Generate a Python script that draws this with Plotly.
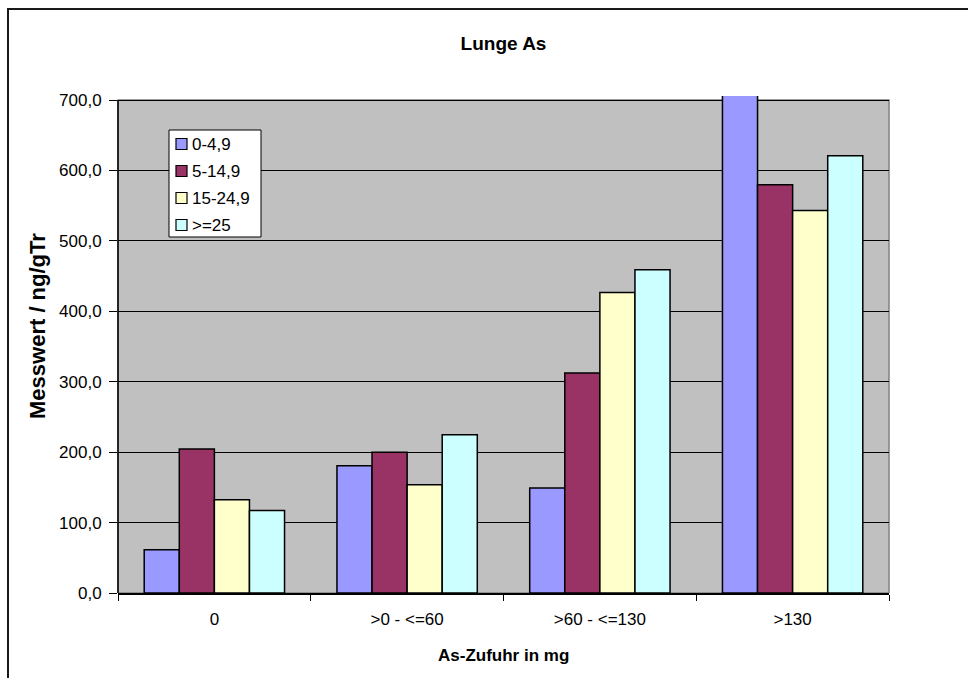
import plotly.graph_objects as go

# Arsenic in lung tissue by cumulative As intake, split by age class
categories = ["0", ">0 - <=60", ">60 - <=130", ">130"]
series_names = ["0-4,9", "5-14,9", "15-24,9", ">=25"]
vals_0_4 = [61.5, 180.8, 149.0, 760.0]
vals_5_14 = [204.5, 199.7, 312.4, 579.7]
vals_15_24 = [132.5, 153.8, 426.8, 543.0]
vals_25 = [117.3, 224.8, 459.0, 620.9]
colors = ["#9999FF", "#993366", "#FFFFCC", "#CCFFFF"]

y_ticks = [0, 100, 200, 300, 400, 500, 600, 700]
y_tick_text = ["0,0", "100,0", "200,0", "300,0", "400,0", "500,0", "600,0", "700,0"]

W, H = 968, 678
ML, MR, MT, MB = 118, 79, 96, 85
plot_w = W - ML - MR
plot_h = H - MT - MB
y_top = 700 * plot_h / (plot_h - 4)  # small headroom so an over-range bar pokes out

font = "Liberation Sans, Arial, sans-serif"
tick_size = 17


def px_x(px):
    return (px - ML) / plot_w


def px_y(py):
    return (H - MB - py) / plot_h


fig = go.Figure()
all_vals = [vals_0_4, vals_5_14, vals_15_24, vals_25]
for i, (name, vals) in enumerate(zip(series_names, all_vals)):
    fig.add_trace(go.Bar(
        x=categories, y=vals, name=name, showlegend=False,
        marker=dict(color=colors[i], line=dict(color="#000000", width=1.5)),
    ))

# grey plotting area up to the 700 mark
fig.add_shape(type="rect", xref="paper", yref="y", x0=0, x1=1, y0=0, y1=700,
              fillcolor="#C0C0C0", line=dict(color="#808080", width=1.5), layer="below")
# y axis line
fig.add_shape(type="line", xref="paper", yref="y", x0=0, x1=0, y0=0, y1=700,
              line=dict(color="#000000", width=1.5), layer="above")
# outer chart frame
fig.add_shape(type="rect", xref="paper", yref="paper",
              x0=px_x(8), x1=px_x(990), y0=px_y(700), y1=px_y(9),
              line=dict(color="#1a1a1a", width=2), fillcolor="rgba(0,0,0,0)")

# legend box with compact swatches
fig.add_shape(type="rect", xref="paper", yref="paper",
              x0=px_x(169), x1=px_x(261), y0=px_y(237), y1=px_y(130),
              fillcolor="#FFFFFF", line=dict(color="#000000", width=1), layer="above")
row_y = [144, 171, 198, 225]
for i, name in enumerate(series_names):
    cy = row_y[i]
    fig.add_shape(type="rect", xref="paper", yref="paper",
                  x0=px_x(176), x1=px_x(187), y0=px_y(cy + 5.5), y1=px_y(cy - 5.5),
                  fillcolor=colors[i], line=dict(color="#000000", width=1.2), layer="above")
    fig.add_annotation(text=name, xref="paper", yref="paper",
                       x=px_x(190), y=px_y(cy), xanchor="left", yanchor="middle",
                       showarrow=False, font=dict(family=font, size=tick_size, color="#000"))

fig.add_annotation(text="<b>Messwert / ng/gTr</b>", xref="paper", yref="paper",
                   x=px_x(37), y=px_y(326), xanchor="center", yanchor="middle",
                   textangle=-90, showarrow=False, font=dict(family=font, size=22, color="#000"))
fig.add_annotation(text="<b>As-Zufuhr in mg</b>", xref="paper", yref="paper",
                   x=0.5, y=px_y(655), yanchor="middle",
                   showarrow=False, font=dict(family=font, size=17, color="#000"))

fig.update_layout(
    width=W, height=H,
    margin=dict(l=ML, r=MR, t=MT, b=MB),
    paper_bgcolor="#FFFFFF", plot_bgcolor="#FFFFFF",
    barmode="group", bargap=0.272, bargroupgap=0,
    title=dict(text="<b>Lunge As</b>", x=0.5, xref="paper", y=1 - 43 / H, yanchor="middle",
               font=dict(family=font, size=19, color="#000")),
    font=dict(family=font, size=tick_size, color="#000"),
    showlegend=False,
)
fig.update_xaxes(showgrid=False, showline=True, linecolor="#000000", linewidth=1.5,
                 ticks="outside", tickson="boundaries", ticklen=6, tickcolor="#000000",
                 ticklabelstandoff=10,
                 tickfont=dict(family=font, size=tick_size, color="#000"), zeroline=False)
fig.update_yaxes(range=[0, y_top], tickvals=y_ticks, ticktext=y_tick_text,
                 showgrid=True, gridcolor="#000000", gridwidth=1,
                 showline=False, zeroline=False, ticks="outside", ticklen=8,
                 ticklabelstandoff=4,
                 tickcolor="#000000", tickfont=dict(family=font, size=tick_size, color="#000"))

fig.write_html("out.html")
